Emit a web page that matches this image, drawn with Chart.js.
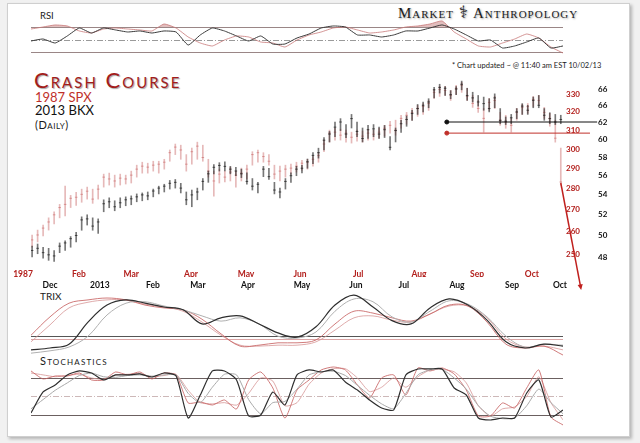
<!DOCTYPE html>
<html>
<head>
<meta charset="utf-8">
<script src="https://cdn.jsdelivr.net/npm/chart.js@4.4.1/dist/chart.umd.min.js"></script>
<style>
  html, body { margin: 0; padding: 0; width: 640px; height: 443px; overflow: hidden; background: #f1f1f1; font-family: Lato, sans-serif; }
  #card { position: absolute; left: 7px; top: 3px; width: 621px; height: 432px; background: #fff; border: 1px solid #cfcfcf; box-shadow: 2px 2px 3px rgba(0,0,0,0.25); }
  canvas { position: absolute; left: 0; top: 0; }
  .t { position: absolute; white-space: nowrap; line-height: 1; color: #1a1a1a; }
  .brand { font-family: "Liberation Serif", serif; font-variant: small-caps; font-size: 15px; letter-spacing: 1px; color: #1c1c1c; text-shadow: 1px 1px 2px rgba(0,0,0,0.35); }
  .title { font-variant: small-caps; font-size: 22px; letter-spacing: 2px; color: #a31d1b; text-shadow: 1px 1px 1px rgba(0,0,0,0.35); }
</style>
</head>
<body>
<div id="card"></div>

<div class="t" style="left:40px;top:11px;font-size:9.5px">RSI</div>
<div class="t brand" style="left:398px;top:6px">Market <span style="font-family:'DejaVu Sans';font-size:17px;line-height:0">⚕</span> Anthropology</div>
<div class="t" style="left:452px;top:62px;font-size:7.5px">* Chart updated ~ @ 11:40 am EST 10/02/13</div>
<div class="t title" style="left:34px;top:69px">Crash Course</div>
<div class="t" style="left:35px;top:91px;font-size:13px;color:#c0302a">1987 SPX</div>
<div class="t" style="left:35px;top:104px;font-size:13px;color:#111">2013 BKX</div>
<div class="t" style="left:35px;top:119px;font-size:11px;letter-spacing:0.5px;font-variant:small-caps">(Daily)</div>
<div class="t" style="left:40px;top:291px;font-size:10px">TRIX</div>
<div class="t" style="left:40px;top:355px;font-size:11px;font-variant:small-caps;letter-spacing:1.2px">Stochastics</div>

<canvas id="rsi" width="640" height="443"></canvas>
<canvas id="price" width="640" height="443"></canvas>
<canvas id="trix" width="640" height="443"></canvas>
<canvas id="stoch" width="640" height="443"></canvas>

<script>
// ---- price bars, one per ~2 trading days (2013 BKX, black / 1987 SPX, red) ----
const bkxHigh = [49.0,49.2,48.9,48.8,48.6,49.3,49.5,49.9,50.3,51.8,
  52.0,51.7,51.6,53.5,53.7,53.4,53.7,53.8,53.9,54.1,
  54.2,54.3,54.6,54.9,55.1,55.5,55.6,55.2,54.3,54.5,
  54.7,55.7,56.5,57.2,57.4,57.5,57.0,56.9,56.7,56.3,
  55.7,55.3,57.0,56.8,55.3,54.7,55.7,56.3,57.0,57.1,
  57.8,58.5,59.0,60.2,60.9,62.0,62.4,61.7,62.9,62.0,
  61.3,61.6,61.7,61.4,61.6,60.3,61.3,62.2,62.7,63.4,
  64.1,64.4,64.8,66.2,66.6,66.3,65.8,66.3,67.0,66.1,
  65.6,65.2,65.0,64.8,65.4,63.6,62.6,62.9,63.6,64.2,
  64.0,65.0,65.2,63.6,63.1,62.9,62.8];
const bkxLow = [48.0,48.3,47.9,47.7,47.6,48.4,48.6,48.9,49.4,50.5,
  51.0,50.5,50.2,52.3,52.7,52.4,52.7,52.9,53.0,53.3,
  53.4,53.5,53.8,54.1,54.3,54.6,54.7,54.2,53.0,52.8,
  53.5,54.5,55.3,56.2,56.5,56.5,56.2,56.0,55.8,55.1,
  54.5,54.2,55.9,55.6,54.1,53.7,54.6,55.3,56.0,56.3,
  56.8,57.3,57.9,58.8,59.7,60.3,61.0,60.2,61.3,60.3,
  59.7,60.1,60.3,60.1,60.2,58.8,59.7,60.8,61.5,62.2,
  62.9,63.2,63.7,64.9,65.5,65.2,64.8,65.3,65.9,64.6,
  64.4,63.9,63.4,63.2,63.7,61.8,61.7,61.8,62.4,62.9,
  62.9,63.7,63.7,62.2,61.8,61.7,61.8];
const bkxClose = [48.6,48.8,48.4,48.2,48.1,49.0,49.3,49.7,50.0,51.5,
  51.6,50.9,51.3,53.1,53.3,52.8,53.2,53.5,53.6,53.8,
  54.0,53.9,54.4,54.7,54.9,55.2,55.3,54.7,53.5,54.0,
  54.3,55.4,56.2,56.9,57.1,57.0,56.7,56.5,56.2,55.4,
  54.9,55.1,56.7,55.9,54.5,54.3,55.4,56.0,56.7,56.8,
  57.5,58.2,58.5,59.9,60.6,61.4,62.0,60.6,62.4,60.9,
  60.1,61.1,61.2,60.6,61.1,59.1,61.0,61.8,62.3,63.0,
  63.6,64.0,64.4,65.9,66.2,66.1,65.3,66.0,66.6,65.2,
  64.9,64.4,64.2,63.6,64.9,62.2,62.1,62.5,63.2,63.9,
  63.4,64.6,64.0,62.8,62.4,62.0,62.3];

const spxHigh = [258.4,260.6,262.9,266.2,269.0,272.5,281.3,276.8,278.3,279.8,
  280.8,279.8,281.8,287.2,287.7,286.7,287.2,286.7,288.7,291.7,
  293.2,292.7,293.7,293.7,294.7,299.5,302.6,302.0,297.1,300.5,
  303.6,302.0,294.7,288.7,289.7,288.7,290.7,288.7,290.2,291.7,
  298.6,299.5,298.1,297.1,291.7,291.2,291.7,292.2,293.2,294.2,
  294.7,296.1,298.1,304.7,310.0,311.0,310.5,310.0,308.9,310.0,
  309.5,310.5,310.0,311.0,312.6,314.8,315.4,318.1,319.7,321.9,
  323.6,324.7,326.4,332.7,334.5,334.5,332.1,335.1,336.8,333.3,
  329.3,326.4,321.9,327.5,328.7,319.7,318.1,316.4,321.9,324.2,
  324.7,328.7,329.3,322.5,319.2,315.4,300.5];
const spxLow = [253.0,255.3,258.0,260.6,263.4,266.2,267.1,271.0,272.0,273.5,
  275.0,273.0,275.0,280.8,281.8,280.8,281.8,282.3,282.8,285.7,
  287.7,287.7,288.7,287.7,289.7,293.7,297.1,294.7,288.7,292.2,
  294.7,293.7,285.7,276.4,282.8,283.3,283.8,280.8,283.8,284.8,
  291.7,293.2,293.2,291.7,284.8,283.8,285.7,287.2,288.2,289.2,
  289.7,291.2,293.2,298.6,303.6,304.7,304.7,303.6,303.1,304.1,
  303.6,304.7,304.7,305.7,306.8,308.4,307.3,311.0,313.2,315.4,
  317.5,318.6,320.8,327.5,328.7,329.3,326.4,329.8,331.0,326.4,
  322.5,319.7,308.9,320.8,321.9,312.6,311.0,308.9,315.4,318.6,
  319.2,323.0,324.2,316.4,312.1,303.6,281.8];
const spxClose = [256.2,258.4,261.5,264.3,267.6,271.0,272.5,275.4,275.9,277.3,
  278.8,275.0,279.8,285.7,284.8,283.8,285.2,284.8,286.7,289.7,
  291.2,290.7,291.7,292.2,293.2,298.1,301.0,299.5,292.2,298.6,
  301.5,295.6,288.7,283.8,287.2,285.7,288.2,286.7,287.7,289.7,
  297.1,298.1,296.1,293.7,287.2,288.7,289.7,290.2,291.2,292.7,
  293.2,294.7,296.6,302.6,308.4,308.9,307.3,308.4,306.2,307.8,
  306.8,308.4,307.8,308.9,311.0,312.6,310.0,316.4,318.1,319.7,
  321.9,323.0,324.7,331.0,332.7,332.1,329.3,333.3,335.1,328.7,
  324.7,321.9,316.4,325.3,326.4,315.4,314.3,312.6,319.7,322.5,
  323.0,327.0,326.4,319.7,316.4,305.7,283.3];

// month labels and where they fall on the bar index
const spxMonths = ['1987','Feb','Mar','Apr','May','Jun','Jul','Aug','Sep','Oct'];
const spxMonthAt = [-1.65,8.5,18.0,28.85,38.85,48.65,59.2,70.25,80.8,90.75];
const bkxMonths = ['Dec','2013','Feb','Mar','Apr','May','Jun','Jul','Aug','Sep','Oct'];
const bkxMonthAt = [3.25,12.3,21.95,30.1,39.2,49.0,58.8,67.5,77.15,87.15,95.85];

// right axis ticks (the chart prints 66 twice)
const spxTicks = [250,260,270,280,290,300,310,320,330];
const bkxTicks = [48,50,52,54,56,58,60,62,64,66];
const bkxTickLabels = ['48','50','52','54','56','58','60','62','66','66'];

// support lines and crash arrow
const bkxSupport = 62;
const spxSupport = 308.4;
const supportFrom = 75.3;
const bkxSupportTo = 102.6;
const spxSupportTo = 101.3;
const crashFrom = [96.0, 282.8];
const crashTo = [99.7, 234.9];

// ---- indicators ----
const rsiBkx = [47.9,51.0,44.7,55.8,68.4,60.5,68.4,65.3,62.1,63.7,
  60.5,63.7,62.1,41.5,57.4,68.4,63.7,55.8,47.9,55.8,
  43.1,43.1,52.6,58.9,68.4,71.6,70.0,57.4,57.4,54.2,
  57.4,63.7,63.7,68.4,73.2,66.8,57.4,47.9,49.4,36.8,
  40.0,46.3,52.6,36.8,40.0];
const rsiSpx = [66.8,70.0,73.2,71.6,63.7,60.5,66.8,68.4,66.8,65.3,
  63.7,74.7,68.4,54.2,44.7,40.0,49.4,55.8,54.2,46.3,
  44.7,38.4,49.4,57.4,62.1,68.4,70.0,65.3,60.5,62.1,
  65.3,70.0,71.6,74.7,79.5,62.1,51.0,40.0,38.4,44.7,
  51.0,58.9,52.6,38.4,28.9];
const rsiLevels = [70, 50, 30];

const trixBkx = [-0.29,-0.25,-0.17,0.30,0.66,0.77,0.70,0.62,0.56,0.26,
  0.39,0.43,0.26,0.07,-0.02,0.20,0.66,0.87,0.62,0.33,
  0.26,0.60,0.79,0.66,0.34,-0.12,-0.25,-0.17,-0.21];
const trixBkxSignal = [-0.36,-0.31,-0.23,0.00,0.45,0.70,0.73,0.64,0.56,0.43,
  0.32,0.39,0.26,0.00,-0.04,0.09,0.53,0.79,0.73,0.41,
  0.30,0.53,0.75,0.68,0.41,0.00,-0.23,-0.17,-0.19];
const trixSpx = [0.08,0.47,0.76,0.83,0.87,0.83,0.72,0.66,0.62,0.42,
  0.11,-0.15,-0.13,-0.08,-0.08,-0.02,0.32,0.59,0.55,0.45,
  0.38,0.53,0.72,0.70,0.36,-0.11,-0.19,-0.15,-0.34];
const trixSpxSignal = [-0.06,0.30,0.66,0.78,0.83,0.83,0.74,0.68,0.59,0.36,
  0.08,-0.13,-0.15,-0.13,-0.13,-0.06,0.19,0.45,0.49,0.40,
  0.36,0.53,0.70,0.70,0.45,0.00,-0.17,-0.15,-0.23];

const stochBkx = [23.2,57.3,68.6,84.9,91.4,88.1,76.8,84.9,84.9,86.5,
  81.6,88.1,83.2,15.1,52.4,91.4,91.4,76.8,18.4,20.0,
  57.3,36.2,84.9,93.0,89.7,93.0,73.5,60.5,44.3,31.4,
  28.1,84.9,94.6,94.6,94.6,63.8,52.4,15.1,11.9,15.1,
  15.1,55.7,76.8,16.8,28.1];
const stochBkxSignal = [30,45,60,72,84,88,82,81,84,85,
  83,85,85,55,40,65,86,85,45,22,
  40,42,62,85,90,91,84,68,52,38,
  30,55,85,93,94,80,62,35,18,14,
  15,35,62,40,22];
const stochSpx = [91.4,78.4,83.2,83.2,88.1,76.8,76.8,89.7,84.9,89.7,
  78.4,88.1,84.9,39.5,41.1,36.2,44.3,29.7,76.8,89.7,
  63.8,15.1,60.5,76.8,93.0,97.8,93.0,68.6,47.6,80.0,
  84.9,52.4,96.2,91.4,96.2,86.5,60.5,18.4,18.4,39.5,
  31.4,63.8,93.0,16.8,3.8];
const stochSpxSignal = [88,85,82,84,86,80,78,85,86,87,
  82,84,86,60,40,38,40,36,55,80,
  75,35,40,70,88,95,95,80,58,65,
  80,65,82,93,94,90,72,35,18,30,
  33,50,82,40,12];
const stochLevels = [80, 50, 20];

const RED = '#b3201d';

Chart.defaults.font.family = 'Lato';
Chart.defaults.animation = false;
Chart.defaults.events = [];
Chart.defaults.plugins.legend.display = false;
Chart.defaults.plugins.tooltip.enabled = false;

// horizontal guide lines across a panel
function levelLines(lines) {
  return {
    id: 'levelLines',
    beforeDatasetsDraw(chart) {
      const { ctx, chartArea } = chart;
      lines.forEach(l => {
        const y = Math.round(chart.scales[l.axis].getPixelForValue(l.value)) + 0.5;
        ctx.save();
        ctx.strokeStyle = l.color;
        ctx.lineWidth = 1;
        ctx.setLineDash(l.dash || []);
        ctx.beginPath();
        ctx.moveTo(chartArea.left, y);
        ctx.lineTo(chartArea.right, y);
        ctx.stroke();
        ctx.restore();
      });
    }
  };
}

// the projected crash: arrow from the last 1987 bar, placed through the scales
const crashArrow = {
  id: 'crashArrow',
  afterDatasetsDraw(chart) {
    const { ctx, scales } = chart;
    const x0 = scales.xr.getPixelForValue(crashFrom[0]);
    const y0 = scales.yr.getPixelForValue(crashFrom[1]);
    const x1 = scales.xr.getPixelForValue(crashTo[0]);
    const y1 = scales.yr.getPixelForValue(crashTo[1]);
    const a = Math.atan2(y1 - y0, x1 - x0);
    ctx.save();
    ctx.strokeStyle = '#c0201e';
    ctx.fillStyle = '#c0201e';
    ctx.lineWidth = 1.5;
    ctx.beginPath();
    ctx.moveTo(x0, y0);
    ctx.lineTo(x1 - 4 * Math.cos(a), y1 - 4 * Math.sin(a));
    ctx.stroke();
    ctx.beginPath();
    ctx.moveTo(x1, y1);
    ctx.lineTo(x1 - 6 * Math.cos(a - 0.45), y1 - 6 * Math.sin(a - 0.45));
    ctx.lineTo(x1 - 6 * Math.cos(a + 0.45), y1 - 6 * Math.sin(a + 0.45));
    ctx.closePath();
    ctx.fill();
    ctx.restore();
  }
};

function panel(canvasId, top, bottom, datasets, yScales, lines) {
  const n = datasets[0].data.length;
  const scales = { x: { type: 'linear', min: 0, max: n - 1, display: false } };
  Object.keys(yScales).forEach(k => {
    scales[k] = Object.assign({ type: 'linear', display: false }, yScales[k]);
  });
  return new Chart(document.getElementById(canvasId), {
    type: 'line',
    data: {
      datasets: datasets.map(d => Object.assign(
        { pointRadius: 0, borderWidth: 1, tension: 0.35, fill: false },
        d,
        { data: d.data.map((v, i) => ({ x: i, y: v })) }))
    },
    options: {
      responsive: false,
      layout: { padding: { left: 31, right: 77, top: top, bottom: 443 - bottom } },
      scales: scales
    },
    plugins: [levelLines(lines)]
  });
}

// RSI
panel('rsi', 18, 58, [
  { data: rsiBkx, borderColor: '#3a3a3a', tension: 0.15 },
  { data: rsiSpx, borderColor: 'rgba(200,120,120,0.8)', tension: 0.15,
    fill: { target: { value: 70 }, above: 'rgba(190,110,110,0.45)', below: 'rgba(0,0,0,0)' } }
], { y: { min: 21, max: 84.2 } }, [
  { axis: 'y', value: rsiLevels[0], color: '#9a8686' },
  { axis: 'y', value: rsiLevels[1], color: '#9a9a9a', dash: [6, 2, 1, 2] },
  { axis: 'y', value: rsiLevels[2], color: '#9a8686' }
]);

// TRIX
panel('trix', 290, 356, [
  { data: trixBkx, borderColor: '#2e2e2e', borderWidth: 1.2, yAxisID: 'yb' },
  { data: trixBkxSignal, borderColor: '#b0b0b0', yAxisID: 'yb' },
  { data: trixSpx, borderColor: 'rgba(200,100,100,0.85)', yAxisID: 'yr' },
  { data: trixSpxSignal, borderColor: 'rgba(215,150,150,0.8)', yAxisID: 'yr' }
], { yb: { min: -0.42, max: 0.98 }, yr: { min: -0.36, max: 1.04 } }, [
  { axis: 'yb', value: 0, color: '#555' },
  { axis: 'yr', value: 0, color: '#dba6a6' }
]);

// Stochastics
panel('stoch', 362, 428, [
  { data: stochBkx, borderColor: '#2e2e2e', borderWidth: 1.2, tension: 0.2 },
  { data: stochBkxSignal, borderColor: '#a8a8a8', tension: 0.2 },
  { data: stochSpx, borderColor: 'rgba(200,100,100,0.85)', tension: 0.2 },
  { data: stochSpxSignal, borderColor: 'rgba(215,150,150,0.8)', tension: 0.2 }
], { y: { min: -1.1, max: 105.9 } }, [
  { axis: 'y', value: stochLevels[0], color: '#6b6060' },
  { axis: 'y', value: stochLevels[1], color: '#cdb8b8', dash: [6, 2, 1, 2] },
  { axis: 'y', value: stochLevels[2], color: '#6b6060' }
]);

// Price chart: high-low bars with close ticks on two log scales
const idx = bkxHigh.map((_, i) => i);
const tickFont = { family: 'Lato', size: 8.5, weight: 'bold' };
const yFont = { family: 'Lato', size: 8, weight: 'bold' };

new Chart(document.getElementById('price'), {
  type: 'bar',
  data: {
    datasets: [
      { type: 'line', xAxisID: 'xb', yAxisID: 'yb', clip: false,
        data: [{ x: supportFrom, y: bkxSupport }, { x: bkxSupportTo, y: bkxSupport }],
        borderColor: '#111', borderWidth: 1, pointRadius: 2, pointBackgroundColor: '#111', pointBorderColor: '#111' },
      { type: 'line', xAxisID: 'xb', yAxisID: 'yr', clip: false,
        data: [{ x: supportFrom, y: spxSupport }, { x: spxSupportTo, y: spxSupport }],
        borderColor: '#c0302a', borderWidth: 1, pointRadius: 2, pointBackgroundColor: '#c0302a', pointBorderColor: '#c0302a' },
      { type: 'line', xAxisID: 'xb', yAxisID: 'yb', showLine: false,
        data: idx.map(i => ({ x: i, y: bkxClose[i] })),
        pointStyle: 'line', pointRadius: 1.3, borderColor: 'rgba(25,25,25,0.7)', borderWidth: 1 },
      { type: 'bar', xAxisID: 'xb', yAxisID: 'yb', grouped: false, barThickness: 1,
        data: idx.map(i => ({ x: i, y: [bkxLow[i], bkxHigh[i]] })),
        backgroundColor: 'rgba(35,35,35,0.62)' },
      { type: 'line', xAxisID: 'xr', yAxisID: 'yr', showLine: false,
        data: idx.map(i => ({ x: i, y: spxClose[i] })),
        pointStyle: 'line', pointRadius: 1.3, borderColor: 'rgba(195,85,85,0.5)', borderWidth: 1 },
      { type: 'bar', xAxisID: 'xr', yAxisID: 'yr', grouped: false, barThickness: 1,
        data: idx.map(i => ({ x: i, y: [spxLow[i], spxHigh[i]] })),
        backgroundColor: 'rgba(200,100,100,0.45)' }
    ]
  },
  options: {
    responsive: false,
    layout: { padding: { left: 31, right: 15, top: 80, bottom: 153 } },
    scales: {
      xr: {
        type: 'linear', position: 'bottom', weight: 0, min: -0.2, max: 96.4, offset: false,
        grid: { display: false, drawTicks: false }, border: { display: false },
        afterBuildTicks: a => { a.ticks = spxMonthAt.map(v => ({ value: v })); },
        afterFit: a => { a.height = 12; },
        ticks: { autoSkip: false, maxRotation: 0, padding: 4, color: RED, font: tickFont,
          callback: (v, i) => spxMonths[i] }
      },
      xb: {
        type: 'linear', position: 'bottom', weight: 1, min: -0.2, max: 96.4, offset: false,
        grid: { display: false, drawTicks: false }, border: { display: false },
        afterBuildTicks: a => { a.ticks = bkxMonthAt.map(v => ({ value: v })); },
        afterFit: a => { a.height = 13; },
        ticks: { autoSkip: false, maxRotation: 0, padding: 3, color: '#111', font: tickFont,
          callback: (v, i) => bkxMonths[i] }
      },
      yr: {
        type: 'logarithmic', position: 'right', weight: 0, min: 245.27, max: 338.2,
        grid: { display: false, drawTicks: false }, border: { display: false },
        afterBuildTicks: a => { a.ticks = spxTicks.map(v => ({ value: v })); },
        afterFit: a => { a.width = 32; },
        ticks: { padding: 3, color: RED, font: yFont, callback: v => String(v) }
      },
      yb: {
        type: 'logarithmic', position: 'right', weight: 1, min: 47.28, max: 67.14,
        grid: { display: false, drawTicks: false }, border: { display: false },
        afterBuildTicks: a => { a.ticks = bkxTicks.map(v => ({ value: v })); },
        afterFit: a => { a.width = 30; },
        ticks: { padding: 3, color: '#111', font: yFont, callback: (v, i) => bkxTickLabels[i] }
      }
    }
  },
  plugins: [crashArrow]
});
</script>
</body>
</html>
